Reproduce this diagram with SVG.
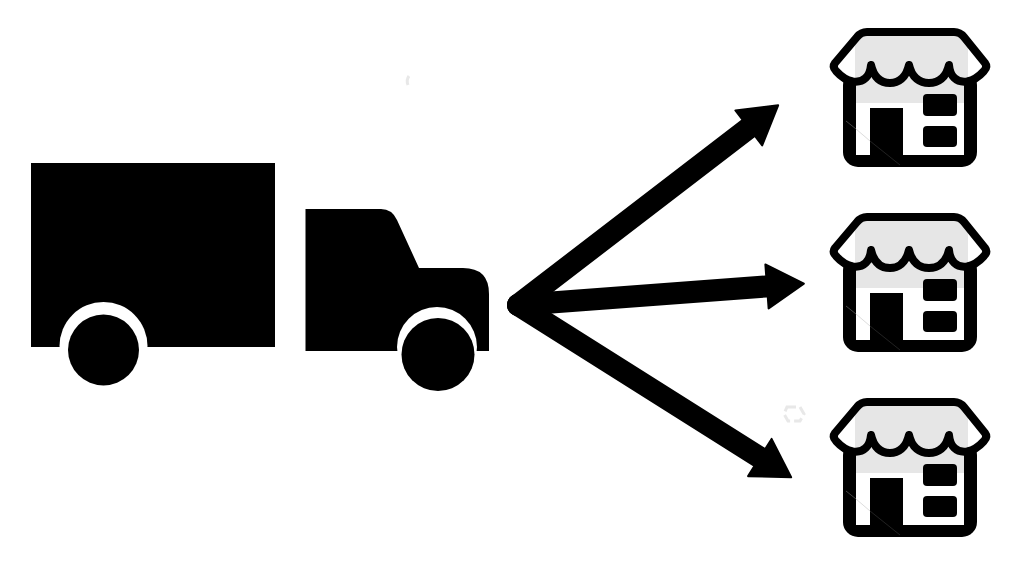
<svg xmlns="http://www.w3.org/2000/svg" width="1013" height="565" viewBox="0 0 1013 565">
<style>
.k{fill:#000}
.w{fill:#fff}
.g{fill:#e6e6e6}
.shaft{fill:none;stroke:#000;stroke-width:22;stroke-linecap:round}
.awn{stroke:#000;stroke-width:8;stroke-linejoin:round;fill:none}
.faint{fill:none;stroke:#e8e8e8;stroke-width:3}
</style>
<defs>
<marker id="head" markerUnits="userSpaceOnUse" markerWidth="44" markerHeight="50" refX="2" refY="25" orient="auto" viewBox="0 0 44 50">
<path d="M3 3 L40 25 L3 47 Z" fill="#000" stroke="#000" stroke-width="2" stroke-linejoin="round"/>
</marker>
<path id="awning" d="M867 32H954Q960 32 964 37L985 63Q988 67 984 71Q976 80 967 81.500C956 83 950 76 949 65C946 78 938 83 929 83C920 83 912 78 909 65C906 78 898 83 890 83C881 83 874 78 871 65C870 76 864 83 853 81.500Q844 80 836 71Q832 67 835 63L857 37Q861 32 867 32Z"/>
<clipPath id="shade"><rect x="855" y="30" width="113" height="73"/></clipPath>
<g id="store">
<rect class="k" x="843" y="70" width="134" height="97" rx="15"/>
<rect class="w" x="856" y="70" width="108" height="85"/>
<rect class="g" x="856" y="70" width="108" height="33"/>
<use href="#awning" class="w"/>
<use href="#awning" class="g" clip-path="url(#shade)"/>
<use href="#awning" class="awn"/>
<rect class="k" x="870" y="108" width="33" height="47"/>
<rect class="k" x="923" y="94" width="34" height="22" rx="4"/>
<rect class="k" x="923" y="126" width="34" height="21" rx="4"/>
<path d="M870 141L900 165" fill="none" stroke="#222" stroke-width="1"/>
<path d="M846 121L856 129" fill="none" stroke="#444" stroke-width="1"/>
<path d="M856 129L870 141" fill="none" stroke="#ddd" stroke-width="1"/>
</g>
</defs>
<rect width="1013" height="565" fill="#fff"/>
<g id="truck">
<rect class="k" x="31" y="163" width="244" height="184"/>
<circle class="w" cx="103.500" cy="346" r="44"/>
<rect class="w" x="55" y="347" width="100" height="45"/>
<circle class="k" cx="103.500" cy="350" r="35.500"/>
<path class="k" d="M305.500 209H381Q392 209 397 220L419 268H463Q489 268 489 294V351H305.500Z"/>
<circle class="w" cx="437" cy="347" r="40"/>
<rect class="w" x="395" y="351" width="96" height="45"/>
<circle class="k" cx="438" cy="354.500" r="36.500"/>
</g>
<g id="connectors">
<line class="shaft" x1="518" y1="305" x2="748" y2="128.500" marker-end="url(#head)"/>
<line class="shaft" x1="518" y1="305" x2="766" y2="286.500" marker-end="url(#head)"/>
<line class="shaft" x1="518" y1="305" x2="759" y2="457" marker-end="url(#head)"/>
</g>
<g id="store-1"><use href="#store"/></g>
<g id="store-2"><use href="#store" y="185"/></g>
<g id="store-3"><use href="#store" y="370"/></g>
<path class="faint" d="M409 76Q406 80 408 85"/>
<path class="faint" stroke-dasharray="9 4" d="M787 407H800L804 414L800 421H788L784 414Z"/>
</svg>
